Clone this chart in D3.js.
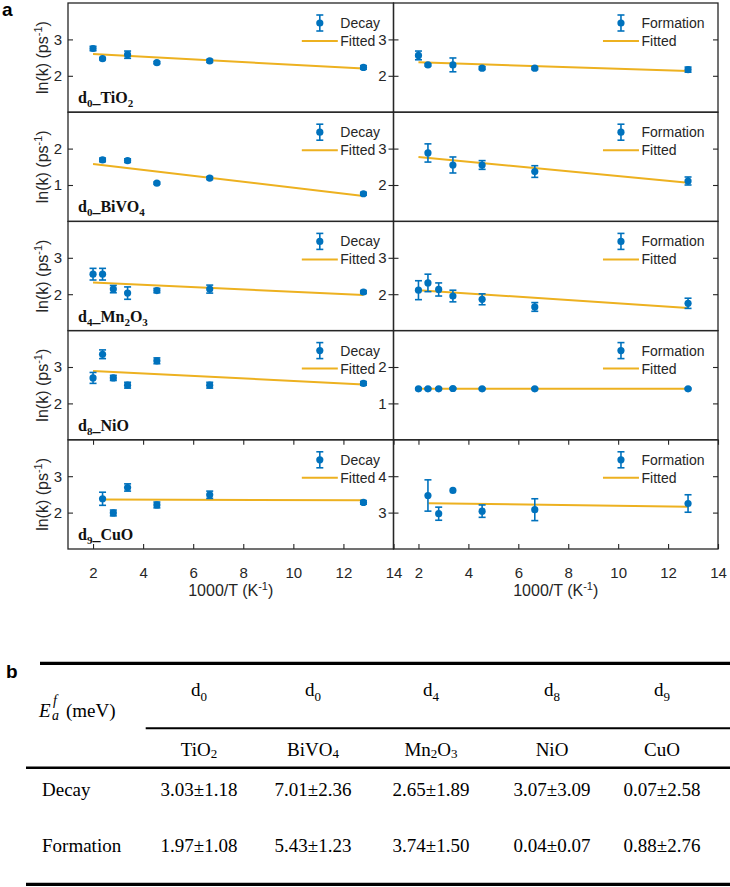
<!DOCTYPE html>
<html>
<head>
<meta charset="utf-8">
<script src="https://cdn.jsdelivr.net/npm/d3@7"></script>
<style>
  body { margin: 0; background: #fff; }
</style>
</head>
<body>
<div class="container"></div>
<script>
// 1000/T values shared by all samples (null where a sample has no point)
const invT = [2.0, 2.38, 2.81, 3.38, 4.55, 6.66, 12.8];

const samples = ["d0_TiO2", "d0_BiVO4", "d4_Mn2O3", "d8_NiO", "d9_CuO"];

// ln(k) decay, one row per sample
const decayLnK = [
  [2.75, 2.47, null, 2.58, 2.36, 2.41, 2.23],
  [null, 1.69, null, 1.67, 1.05, 1.19, 0.76],
  [2.55, 2.55, 2.14, 2.03, 2.10, 2.14, 2.06],
  [2.70, 3.35, 2.70, 2.50, 3.17, 2.50, 2.55],
  [null, 2.38, 1.99, 2.69, 2.21, 2.49, 2.28],
];
const decayErr = [
  [0.06, 0.03, null, 0.10, 0.03, 0.04, 0.05],
  [null, 0.05, null, 0.05, 0.03, 0.04, 0.04],
  [0.16, 0.16, 0.10, 0.17, 0.06, 0.11, 0.04],
  [0.15, 0.12, 0.07, 0.08, 0.08, 0.08, 0.05],
  [null, 0.18, 0.08, 0.10, 0.08, 0.10, 0.05],
];
// ln(k) formation
const formLnK = [
  [2.56, 2.30, null, 2.30, 2.21, 2.21, 2.17],
  [null, 2.88, null, 2.55, 2.55, 2.37, 2.11],
  [2.11, 2.31, 2.13, 1.95, 1.86, 1.65, 1.75],
  [1.40, 1.40, 1.40, 1.41, 1.40, 1.40, 1.40],
  [null, 3.47, 2.97, 3.61, 3.04, 3.08, 3.25],
];
const formErr = [
  [0.12, 0.03, null, 0.19, 0.04, 0.04, 0.07],
  [null, 0.25, null, 0.22, 0.12, 0.16, 0.11],
  [0.26, 0.24, 0.18, 0.16, 0.15, 0.12, 0.14],
  [0.02, 0.02, 0.02, 0.02, 0.02, 0.02, 0.02],
  [null, 0.43, 0.18, 0, 0.17, 0.30, 0.24],
];
// fitted lines: [x0, y0, x1, y1]
const decayFit = [
  [2.0, 2.60, 12.8, 2.20],
  [2.0, 1.58, 12.8, 0.70],
  [2.0, 2.32, 12.8, 1.98],
  [2.0, 2.89, 12.8, 2.52],
  [2.38, 2.36, 12.8, 2.34],
];
const formFit = [
  [2.0, 2.37, 12.8, 2.13],
  [2.0, 2.77, 12.8, 2.06],
  [2.0, 2.11, 12.8, 1.62],
  [2.0, 1.40, 12.8, 1.40],
  [2.4, 3.26, 12.8, 3.16],
];

const decayYDomain = [[1, 4], [0, 3], [1, 4], [1, 4], [1, 4]];
const formYDomain = [[1, 4], [1, 4], [1, 4], [0, 3], [2, 5]];
const decayYTicks = [[2, 3], [1, 2], [2, 3], [2, 3], [2, 3]];
const formYTicks = [[2, 3], [2, 3], [2, 3], [1, 2], [3, 4]];
const xTicks = [2, 4, 6, 8, 10, 12, 14];

// table b
const tableConfig = ["d0", "d0", "d4", "d8", "d9"];
const tableMaterials = ["TiO2", "BiVO4", "Mn2O3", "NiO", "CuO"];
const decayEa = ["3.03±1.18", "7.01±2.36", "2.65±1.89", "3.07±3.09", "0.07±2.58"];
const formationEa = ["1.97±1.08", "5.43±1.23", "3.74±1.50", "0.04±0.07", "0.88±2.76"];

const blue = "#0072BD";
const gold = "#EDB120";
const ink = "#262626";
const sans = "'Liberation Sans', Arial, sans-serif";
const serif = "'Liberation Serif', 'Times New Roman', serif";

const svg = d3.select(".container").append("svg")
  .attr("width", 730).attr("height", 887)
  .style("font-family", sans);

const rowTop = 3, rowH = 109.2;
const cols = [[68, 393.5], [393.5, 718]];

// digits become subscripts
function chem(sel, str, subSize, subDy) {
  let down = false;
  str.match(/\d+|\D+/g).forEach(p => {
    const t = sel.append("tspan").text(p);
    if (/\d/.test(p)) { t.attr("font-size", subSize).attr("dy", subDy); down = true; }
    else if (down) { t.attr("dy", -subDy); down = false; }
  });
}

function panel(r, c) {
  const [x0, x1] = cols[c];
  const y0 = rowTop + r * rowH, y1 = y0 + rowH;
  const isDecay = c === 0;
  const vals = isDecay ? decayLnK[r] : formLnK[r];
  const errs = isDecay ? decayErr[r] : formErr[r];
  const fit = isDecay ? decayFit[r] : formFit[r];

  const x = d3.scaleLinear().domain([1, 14]).range([x0, x1]);
  const y = d3.scaleLinear().domain(isDecay ? decayYDomain[r] : formYDomain[r]).range([y1, y0]);
  const ticks = isDecay ? decayYTicks[r] : formYTicks[r];

  const g = svg.append("g");

  const yl = g.append("g").attr("transform", `translate(${x0},0)`)
    .call(d3.axisLeft(y).tickValues(ticks).tickSize(-5).tickPadding(c === 0 ? 6 : 7).tickFormat(d3.format("d")));
  const yr = g.append("g").attr("transform", `translate(${x1},0)`)
    .call(d3.axisRight(y).tickValues(ticks).tickSize(-5).tickFormat(""));
  [yl, yr].forEach(a => {
    a.select(".domain").remove();
    a.selectAll("line").attr("stroke", ink).attr("stroke-width", 1.1);
    a.selectAll("text").attr("fill", ink).style("font-size", "15px").style("font-family", sans);
  });

  if (r === samples.length - 1) {
    const xb = g.append("g").attr("transform", `translate(0,${y1})`)
      .call(d3.axisBottom(x).tickValues(xTicks).tickSize(-5).tickPadding(18));
    const xt = g.append("g").attr("transform", `translate(0,${y0})`)
      .call(d3.axisTop(x).tickValues(xTicks).tickSize(-5).tickFormat(""));
    [xb, xt].forEach(a => {
      a.select(".domain").remove();
      a.selectAll("line").attr("stroke", ink).attr("stroke-width", 1.1);
      a.selectAll("text").attr("fill", ink).style("font-size", "15px").style("font-family", sans);
    });
    const xl = g.append("text").attr("x", (x0 + x1) / 2).attr("y", 596)
      .attr("text-anchor", "middle").attr("fill", ink).style("font-size", "16px");
    xl.append("tspan").text("1000/T (K");
    xl.append("tspan").text("-1").attr("font-size", 11).attr("dy", -6);
    xl.append("tspan").text(")").attr("dy", 6);
  }

  // box
  g.append("rect").attr("x", x0).attr("y", y0).attr("width", x1 - x0).attr("height", rowH)
    .attr("fill", "none").attr("stroke", ink).attr("stroke-width", 1.3);

  // fitted line
  g.append("line")
    .attr("x1", x(fit[0])).attr("y1", y(fit[1]))
    .attr("x2", x(fit[2])).attr("y2", y(fit[3]))
    .attr("stroke", gold).attr("stroke-width", 2);

  // points with error bars
  const pts = invT.map((t, i) => ({ t, v: vals[i], e: errs[i] })).filter(d => d.v != null);
  const pg = g.selectAll(".pt").data(pts).join("g").attr("class", "pt");
  pg.filter(d => d.e > 0).each(function (d) {
    const s = d3.select(this);
    const cx = x(d.t), ya = y(d.v + d.e), yb = y(d.v - d.e);
    s.append("line").attr("x1", cx).attr("x2", cx).attr("y1", ya).attr("y2", yb);
    s.append("line").attr("x1", cx - 3.5).attr("x2", cx + 3.5).attr("y1", ya).attr("y2", ya);
    s.append("line").attr("x1", cx - 3.5).attr("x2", cx + 3.5).attr("y1", yb).attr("y2", yb);
  });
  pg.selectAll("line").attr("stroke", blue).attr("stroke-width", 1.6);
  pg.append("circle").attr("cx", d => x(d.t)).attr("cy", d => y(d.v)).attr("r", 3.6).attr("fill", blue);

  // legend
  const lg = g.append("g");
  const t1 = lg.append("text").text(isDecay ? "Decay" : "Formation").attr("y", y0 + 25);
  const t2 = lg.append("text").text("Fitted").attr("y", y0 + 43);
  lg.selectAll("text").attr("fill", ink).style("font-size", "14px");
  const tw = Math.max(t1.node().getComputedTextLength(), t2.node().getComputedTextLength());
  const tx = x1 - 13.5 - tw;
  lg.selectAll("text").attr("x", tx);
  const mx = tx - 20.5, my = y0 + 20;
  lg.append("line").attr("x1", mx).attr("x2", mx).attr("y1", my - 8).attr("y2", my + 8);
  lg.append("line").attr("x1", mx - 3.5).attr("x2", mx + 3.5).attr("y1", my - 8).attr("y2", my - 8);
  lg.append("line").attr("x1", mx - 3.5).attr("x2", mx + 3.5).attr("y1", my + 8).attr("y2", my + 8);
  lg.selectAll("line").attr("stroke", blue).attr("stroke-width", 1.6);
  lg.append("circle").attr("cx", mx).attr("cy", my).attr("r", 3.6).attr("fill", blue);
  lg.append("line").attr("x1", tx - 38.5).attr("x2", tx - 2.5).attr("y1", y0 + 38).attr("y2", y0 + 38)
    .attr("stroke", gold).attr("stroke-width", 2);

  if (isDecay) {
    // sample label
    const lab = g.append("text").attr("x", x0 + 10).attr("y", y1 - 9)
      .style("font-family", serif).style("font-size", "16px").style("font-weight", "bold").attr("fill", "#111");
    chem(lab, samples[r], 11, 4);

    // y label
    const yt = g.append("text")
      .attr("transform", `translate(48,${(y0 + y1) / 2}) rotate(-90)`)
      .attr("text-anchor", "middle").attr("fill", ink).style("font-size", "16px");
    yt.append("tspan").text("ln(k) (ps");
    yt.append("tspan").text("-1").attr("font-size", 11).attr("dy", -6);
    yt.append("tspan").text(")").attr("dy", 6);
  }
}

for (let r = 0; r < samples.length; r++) {
  panel(r, 0);
  panel(r, 1);
}

svg.append("text").text("a").attr("x", 2).attr("y", 16)
  .style("font-size", "19px").style("font-weight", "bold").attr("fill", "#000");

// ---- table b ----
svg.append("text").text("b").attr("x", 6).attr("y", 678)
  .style("font-size", "19px").style("font-weight", "bold").attr("fill", "#000");

const tb = svg.append("g").style("font-family", serif).attr("fill", "#000").style("font-size", "19px");
const colC = [199, 313, 431, 552, 662];

[[40, 663.3, 3.2], [145.7, 728.3, 2], [26, 767.7, 2.5], [26, 884.3, 3.3]].forEach(([xs, yy, w]) => {
  tb.append("line").attr("x1", xs).attr("x2", 730).attr("y1", yy).attr("y2", yy)
    .attr("stroke", "#000").attr("stroke-width", w);
});

tb.selectAll(".cfg").data(tableConfig).join("text").attr("class", "cfg")
  .attr("x", (d, i) => colC[i]).attr("y", 696).attr("text-anchor", "middle")
  .each(function (d) { chem(d3.select(this), d, 13, 5); });

tb.selectAll(".mat").data(tableMaterials).join("text").attr("class", "mat")
  .attr("x", (d, i) => colC[i]).attr("y", 756).attr("text-anchor", "middle")
  .each(function (d) { chem(d3.select(this), d, 13, 2); });

tb.selectAll(".dec").data(decayEa).join("text").attr("class", "dec")
  .attr("x", (d, i) => colC[i]).attr("y", 796).attr("text-anchor", "middle").text(d => d);
tb.selectAll(".frm").data(formationEa).join("text").attr("class", "frm")
  .attr("x", (d, i) => colC[i]).attr("y", 852).attr("text-anchor", "middle").text(d => d);

tb.append("text").text("Decay").attr("x", 42).attr("y", 796);
tb.append("text").text("Formation").attr("x", 42).attr("y", 852);

// E_a^f (meV)
tb.append("text").text("E").attr("x", 39).attr("y", 717).style("font-style", "italic");
tb.append("text").text("f").attr("x", 53).attr("y", 705).style("font-style", "italic").style("font-size", "14px");
tb.append("text").text("a").attr("x", 52).attr("y", 720).style("font-style", "italic").style("font-size", "14px");
tb.append("text").text("(meV)").attr("x", 66).attr("y", 717);
</script>
</body>
</html>
